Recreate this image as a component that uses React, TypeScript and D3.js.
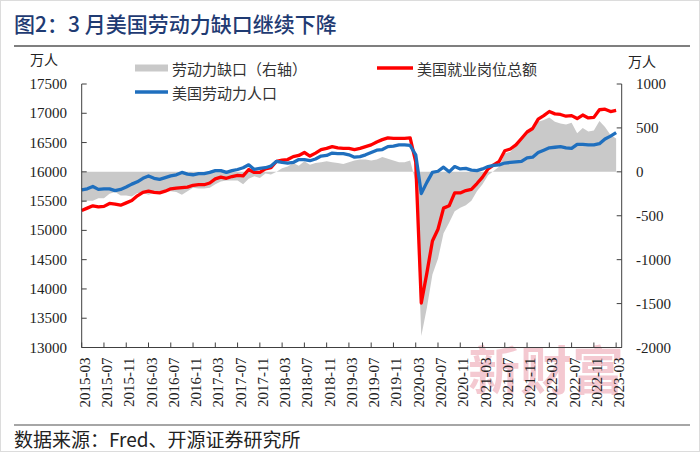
import React from "react";
import * as d3 from "d3";

// 月度数据：2015-03 ~ 2023-03，单位：万人
const tickLabels = [
  "2015-03", "2015-07", "2015-11", "2016-03", "2016-07", "2016-11",
  "2017-03", "2017-07", "2017-11", "2018-03", "2018-07", "2018-11",
  "2019-03", "2019-07", "2019-11", "2020-03", "2020-07", "2020-11",
  "2021-03", "2021-07", "2021-11", "2022-03", "2022-07", "2022-11",
  "2023-03",
];

// 美国劳动力人口（蓝线，左轴）
const laborForce = [
  15690, 15710, 15750, 15700, 15710, 15710, 15680, 15700, 15740, 15790,
  15830, 15890, 15930, 15890, 15870, 15900, 15930, 15950, 15990, 15960, 15950, 15970,
  15970, 15990, 16020, 16020, 15990, 16020, 16040, 16070, 16120, 16040, 16060, 16070,
  16100, 16180, 16160, 16150, 16160, 16210, 16210, 16190, 16220, 16270, 16280, 16320,
  16310, 16310, 16290, 16250, 16260, 16290, 16330, 16370, 16380, 16430, 16440, 16460,
  16460, 16450, 16290, 15630, 15820, 15990, 16010, 16080, 16000, 16090, 16050, 16060,
  16030, 16020, 16050, 16090, 16110, 16120, 16150, 16160, 16170, 16180, 16240, 16250,
  16330, 16370, 16410, 16420, 16430, 16410, 16400, 16470, 16470, 16460, 16460, 16480,
  16560, 16610, 16670,
];

// 美国就业岗位总额（红线，左轴）
const totalJobs = [
  15340, 15380, 15420, 15400, 15410, 15460, 15450, 15430, 15470, 15510,
  15590, 15650, 15670, 15650, 15640, 15670, 15710, 15720, 15730, 15740, 15770, 15780,
  15780, 15810, 15880, 15910, 15890, 15920, 15940, 15930, 16040, 15990, 15990, 16050,
  16070, 16180, 16200, 16210, 16260, 16280, 16330, 16270, 16320, 16380, 16400, 16430,
  16410, 16400, 16400, 16380, 16400, 16430, 16460, 16510, 16550, 16580, 16570, 16570,
  16570, 16580, 16170, 13760, 14270, 14820, 15020, 15380, 15420, 15640, 15640, 15680,
  15700, 15800, 15910, 16050, 16120, 16180, 16360, 16390, 16460, 16570, 16680, 16740,
  16900, 16960, 17030, 16990, 16980, 16950, 16960, 16910, 16970, 16920, 16930, 17060,
  17070, 17030, 17050,
];

// 劳动力缺口（灰色面积，右轴）
const laborGap = [
  -350, -330, -330, -300, -300, -250, -230, -270, -270, -280,
  -240, -240, -260, -240, -230, -230, -220, -230, -260, -220, -180, -190,
  -190, -180, -140, -110, -100, -100, -100, -140, -80, -50, -70, -20,
  -30, 0, 40, 60, 100, 70, 120, 80, 100, 110, 120, 110,
  100, 90, 110, 130, 140, 140, 130, 140, 170, 150, 130, 110,
  110, 130, -120, -1870, -1550, -1170, -990, -700, -580, -450, -410, -380,
  -330, -220, -140, -40, 10, 60, 210, 230, 290, 390, 440, 490,
  570, 590, 620, 570, 550, 540, 560, 440, 500, 460, 470, 580,
  510, 420, 380,
];

const leftTicks = [13000, 13500, 14000, 14500, 15000, 15500, 16000, 16500, 17000, 17500];
const rightTicks = [-2000, -1500, -1000, -500, 0, 500, 1000];

const serif = "'Liberation Serif', 'Times New Roman', serif";
const cjk = "'Noto Sans CJK SC', sans-serif";

export default function App() {
  const width = 700;
  const height = 452;
  const left = 81.7;
  const right = 621.7;
  const top = 84;
  const bottom = 347.5;

  const x = d3.scaleLinear().domain([0, 97]).range([left, right]);
  const yL = d3.scaleLinear().domain([13000, 17500]).range([bottom, top]);
  const yR = d3.scaleLinear().domain([-2000, 1000]).range([bottom, top]);

  const line = d3
    .line<number>()
    .x((d, i) => x(i))
    .y((d) => yL(d));
  const area = d3
    .area<number>()
    .x((d, i) => x(i))
    .y0(yR(0))
    .y1((d) => yR(d));

  const axisColor = "#404040";

  return (
    <svg
      width={width}
      height={height}
      style={{ position: "absolute", left: 0, top: 0, background: "#fff" }}
    >
      <rect x={0.5} y={0.5} width={width - 1} height={height - 1} fill="#fff" stroke="#dcdcdc" />

      {/* 标题 */}
      <text x={14} y={32} fontFamily={cjk} fontSize={21} fontWeight={500} fill="#1f3b73">
        图2：3 月美国劳动力缺口继续下降
      </text>
      <line x1={14} x2={690} y1={46} y2={46} stroke="#555" strokeWidth={1.5} />

      {/* 单位 */}
      <text x={30} y={59} fontFamily={cjk} fontSize={14} fill="#222" dominantBaseline="central">
        万人
      </text>
      <text x={628} y={61} fontFamily={cjk} fontSize={14} fill="#222" dominantBaseline="central">
        万人
      </text>

      {/* 图例 */}
      <rect x={135} y={64.5} width={33} height={7} fill="#c9c9c9" />
      <text x={172} y={68} fontFamily={cjk} fontSize={15} fill="#333" dominantBaseline="central">
        劳动力缺口（右轴）
      </text>
      <line x1={135} x2={168} y1={92} y2={92} stroke="#1f6fbe" strokeWidth={3.5} />
      <text x={172} y={92} fontFamily={cjk} fontSize={15} fill="#333" dominantBaseline="central">
        美国劳动力人口
      </text>
      <line x1={377} x2={413} y1={68} y2={68} stroke="#ff0000" strokeWidth={3.5} />
      <text x={417} y={68} fontFamily={cjk} fontSize={15} fill="#333" dominantBaseline="central">
        美国就业岗位总额
      </text>

      {/* 数据 */}
      <path d={area(laborGap) ?? ""} fill="#c9c9c9" />
      <path
        d={line(totalJobs) ?? ""}
        fill="none"
        stroke="#ff0000"
        strokeWidth={3.3}
        strokeLinejoin="round"
      />
      <path
        d={line(laborForce) ?? ""}
        fill="none"
        stroke="#1f6fbe"
        strokeWidth={3.3}
        strokeLinejoin="round"
      />

      {/* 水印 */}
      <text
        x={468}
        y={390}
        fontFamily={cjk}
        fontSize={52}
        fontWeight={700}
        fill="#e8899b"
        opacity={0.45}
      >
        新财富
      </text>

      {/* 左轴 */}
      <line x1={left} x2={left} y1={top} y2={bottom} stroke={axisColor} />
      {leftTicks.map((t) => (
        <g key={"l" + t}>
          <line x1={left} x2={left + 5} y1={yL(t)} y2={yL(t)} stroke={axisColor} />
          <text
            x={67}
            y={yL(t)}
            textAnchor="end"
            dominantBaseline="central"
            fontFamily={serif}
            fontSize={15}
            fill="#222"
          >
            {t}
          </text>
        </g>
      ))}

      {/* 右轴 */}
      <line x1={right} x2={right} y1={top} y2={bottom} stroke={axisColor} />
      {rightTicks.map((t) => (
        <g key={"r" + t}>
          <line x1={right - 5} x2={right} y1={yR(t)} y2={yR(t)} stroke={axisColor} />
          <text
            x={636}
            y={yR(t)}
            dominantBaseline="central"
            fontFamily={serif}
            fontSize={15}
            fill="#222"
          >
            {t}
          </text>
        </g>
      ))}

      {/* 横轴 */}
      <line x1={left} x2={right} y1={bottom} y2={bottom} stroke={axisColor} />
      {tickLabels.map((lab, k) => {
        const xi = x(k * 4);
        return (
          <g key={lab}>
            <line x1={xi} x2={xi} y1={bottom} y2={bottom - 5} stroke={axisColor} />
            <text
              transform={`translate(${xi + 3},${bottom + 10}) rotate(-90)`}
              textAnchor="end"
              dominantBaseline="central"
              fontFamily={serif}
              fontSize={15}
              fill="#222"
            >
              {lab}
            </text>
          </g>
        );
      })}

      {/* 来源 */}
      <line x1={14} x2={690} y1={425} y2={425} stroke="#888" strokeWidth={1.5} />
      <text x={14} y={438} fontFamily={cjk} fontSize={19} fill="#222" dominantBaseline="central">
        数据来源：Fred、开源证券研究所
      </text>
    </svg>
  );
}
